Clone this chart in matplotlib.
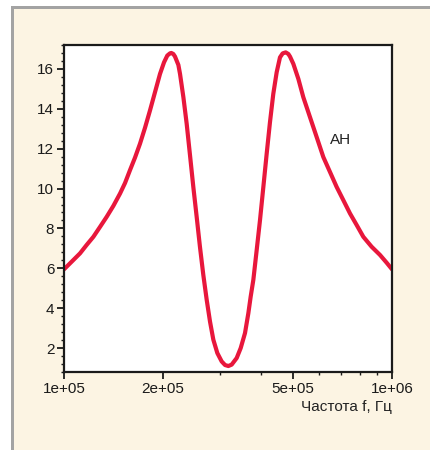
import matplotlib.pyplot as plt
from matplotlib.ticker import FixedLocator, NullFormatter, MultipleLocator
from matplotlib.patches import Rectangle

# Curve (frequency in Hz, level)
freq = [1.0e5, 1.055e5, 1.119e5, 1.172e5, 1.229e5, 1.288e5, 1.349e5, 1.414e5,
        1.482e5, 1.535e5, 1.589e5, 1.646e5, 1.705e5, 1.766e5, 1.829e5, 1.894e5,
        1.962e5, 2.018e5, 2.065e5, 2.104e5, 2.124e5, 2.154e5, 2.180e5, 2.232e5,
        2.258e5, 2.312e5, 2.366e5, 2.422e5, 2.479e5, 2.538e5, 2.597e5, 2.659e5,
        2.723e5, 2.787e5, 2.853e5, 2.934e5, 3.025e5, 3.097e5, 3.170e5, 3.245e5,
        3.361e5, 3.457e5, 3.563e5, 3.648e5, 3.708e5, 3.778e5, 3.868e5, 3.959e5,
        4.053e5, 4.149e5, 4.246e5, 4.346e5, 4.450e5, 4.555e5, 4.642e5, 4.741e5,
        4.830e5, 4.887e5, 5.004e5, 5.182e5, 5.366e5, 5.558e5, 5.757e5, 5.963e5,
        6.175e5, 6.471e5, 6.781e5, 7.105e5, 7.447e5, 7.804e5, 8.177e5, 8.670e5,
        9.192e5, 9.632e5, 1.0e6]
level = [5.95, 6.33, 6.75, 7.17, 7.58, 8.08, 8.58, 9.13,
         9.75, 10.28, 10.92, 11.55, 12.25, 13.05, 13.92, 14.83,
         15.75, 16.33, 16.67, 16.78, 16.80, 16.75, 16.62, 16.20,
         15.75, 14.58, 13.25, 11.67, 10.08, 8.58, 7.08, 5.67,
         4.42, 3.33, 2.42, 1.75, 1.33, 1.15, 1.10, 1.17,
         1.50, 2.00, 2.75, 3.75, 4.58, 5.42, 6.92, 8.42,
         10.08, 11.75, 13.33, 14.75, 15.83, 16.58, 16.78, 16.83,
         16.75, 16.62, 16.25, 15.50, 14.58, 13.83, 13.08, 12.33,
         11.58, 10.83, 10.08, 9.42, 8.75, 8.17, 7.58, 7.08,
         6.67, 6.28, 5.95]

x_ticks = [1e5, 2e5, 5e5, 1e6]
x_labels = ['1e+05', '2e+05', '5e+05', '1e+06']
y_ticks = [2, 4, 6, 8, 10, 12, 14, 16]

plt.rcParams['font.family'] = ['Liberation Sans', 'DejaVu Sans']

fig = plt.figure(figsize=(4.3, 4.5), dpi=100)
fig.patch.set_facecolor('white')

# cream panel with grey frame on top and left (behind the axes)
fig.patches.append(Rectangle((14 / 430, 0), 1, 1 - 8 / 450, transform=fig.transFigure,
                             facecolor='#fcf4e3', edgecolor='none', zorder=-2))
fig.patches.append(Rectangle((11 / 430, 0), 3 / 430, 1 - 6 / 450, transform=fig.transFigure,
                             facecolor='#a3a3a3', edgecolor='none', zorder=-1))
fig.patches.append(Rectangle((11 / 430, 1 - 9 / 450), 1, 3 / 450, transform=fig.transFigure,
                             facecolor='#a3a3a3', edgecolor='none', zorder=-1))

ax = fig.add_axes([64 / 430, 1 - 372 / 450, 328 / 430, 327 / 450])
ax.set_facecolor('white')

ax.plot(freq, level, color='#e8173c', linewidth=3.0, solid_capstyle='round',
        solid_joinstyle='round')

ax.set_xscale('log')
ax.set_xlim(1e5, 1e6)
ax.set_ylim(0.8, 17.2)

ax.xaxis.set_major_locator(FixedLocator(x_ticks))
ax.set_xticklabels(x_labels)
minor_x = [m * 1e5 for m in range(1, 10)]
ax.xaxis.set_minor_locator(FixedLocator(minor_x))
ax.xaxis.set_minor_formatter(NullFormatter())

ax.yaxis.set_major_locator(FixedLocator(y_ticks))
ax.yaxis.set_minor_locator(MultipleLocator(0.4))

for s in ax.spines.values():
    s.set_linewidth(1.6)
    s.set_color('#1a1a1a')

ax.tick_params(axis='both', which='major', direction='out', length=5, width=1.3,
               labelsize=11, colors='#1a1a1a', pad=2)
ax.tick_params(axis='both', which='minor', direction='out', length=2.5, width=1.0,
               colors='#1a1a1a')

ax.text(6.98e5, 12.45, 'АН', fontsize=11, ha='center', va='center', color='#222222')

ax.set_xlabel('Частота f, Гц', fontsize=11, color='#222222', labelpad=2)
ax.xaxis.set_label_coords(1.0, -0.085)
ax.xaxis.label.set_horizontalalignment('right')

fig.savefig('out.png', dpi=100, facecolor=fig.get_facecolor())
